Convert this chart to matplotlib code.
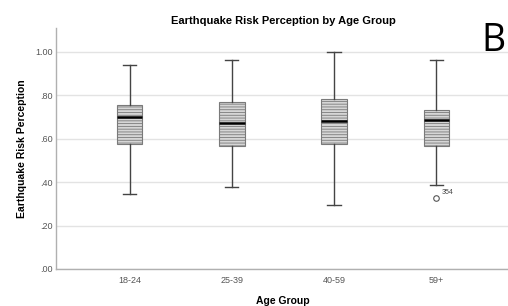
import matplotlib
matplotlib.use("Agg")
import matplotlib.pyplot as plt

# data
groups = ["18-24", "25-39", "40-59", "59+"]
q1 = [0.576, 0.565, 0.575, 0.568]
med = [0.700, 0.670, 0.679, 0.685]
q3 = [0.754, 0.768, 0.783, 0.733]
whislo = [0.346, 0.376, 0.294, 0.387]
whishi = [0.941, 0.961, 1.000, 0.961]
fliers = [[], [], [], [0.326]]
flier_ids = [[], [], [], ["354"]]
yticks = [0.0, 0.2, 0.4, 0.6, 0.8, 1.0]
ytick_labels = [".00", ".20", ".40", ".60", ".80", "1.00"]

plt.rcParams["font.family"] = ["Liberation Sans", "DejaVu Sans"]
plt.rcParams["hatch.linewidth"] = 0.6
plt.rcParams["hatch.color"] = "#8a8a8a"

fig = plt.figure(figsize=(5.08, 3.06), dpi=100)
ax = fig.add_axes([0.110, 0.121, 0.894, 0.788])

stats = []
for i in range(len(groups)):
    stats.append(dict(q1=q1[i], med=med[i], q3=q3[i], whislo=whislo[i],
                      whishi=whishi[i], fliers=fliers[i], label=groups[i]))

pos = list(range(1, len(groups) + 1))
ax.bxp(stats, positions=pos, widths=0.25, patch_artist=True, showfliers=True,
       boxprops=dict(facecolor="#d6d6d6", edgecolor="#7a7a7a", linewidth=0.8, hatch="------"),
       medianprops=dict(color="black", linewidth=1.8),
       whiskerprops=dict(color="#444444", linewidth=1.0),
       capprops=dict(color="#444444", linewidth=1.0),
       capwidths=0.13,
       flierprops=dict(marker="o", markersize=4, markerfacecolor="white",
                       markeredgecolor="#555555", markeredgewidth=0.8))

# case label for the outlier
for i in range(len(groups)):
    for v, lab in zip(fliers[i], flier_ids[i]):
        ax.annotate(lab, (pos[i], v), xytext=(4, 3), textcoords="offset points",
                    fontsize=5, color="#444444")

ax.set_xlim(0.28, 4.72)
ax.set_ylim(0, 1.11)
ax.set_yticks(yticks)
ax.set_yticklabels(ytick_labels)
ax.set_xticks(pos)
ax.set_xticklabels(groups)
ax.yaxis.grid(True, color="#e3e3e3", linewidth=1.0)
ax.set_axisbelow(True)
ax.tick_params(axis="both", length=0, labelsize=6.5, labelcolor="#555555")
ax.tick_params(axis="y", pad=2)
ax.tick_params(axis="x", pad=5)

for s in ["top", "right"]:
    ax.spines[s].set_visible(False)
for s in ["left", "bottom"]:
    ax.spines[s].set_color("#b0b0b0")
    ax.spines[s].set_linewidth(1.0)

ax.set_title("Earthquake Risk Perception by Age Group", fontsize=8, fontweight="bold", pad=3)
ax.set_xlabel("Age Group", fontsize=7.5, fontweight="bold", labelpad=8)
ax.set_ylabel("Earthquake Risk Perception", fontsize=7.5, fontweight="bold", labelpad=6)

fig.text(0.996, 0.865, "B", fontsize=27, color="black", family=["Open Sans", "DejaVu Sans"],
         va="center", ha="right")

fig.savefig("out.png", dpi=100)
